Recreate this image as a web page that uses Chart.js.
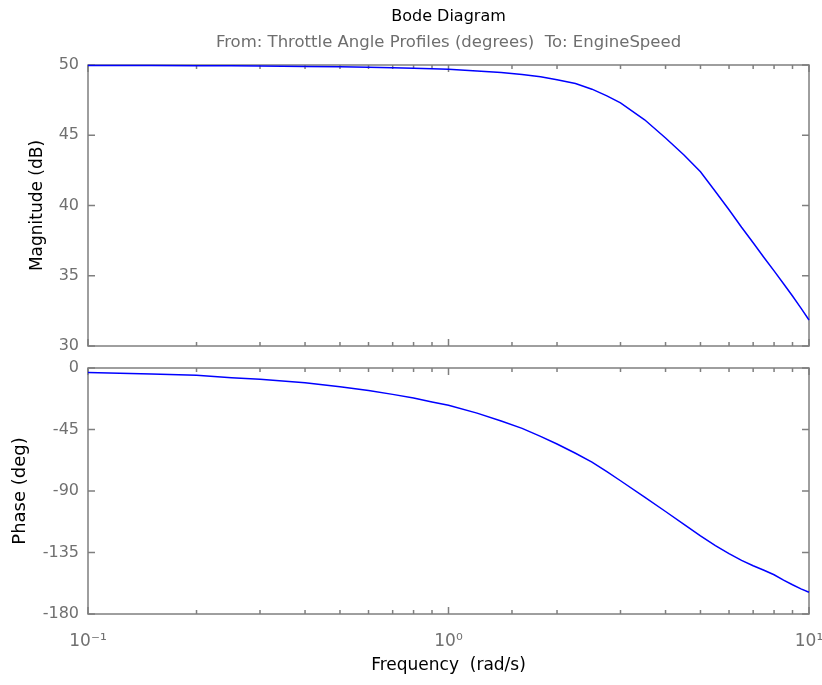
<!DOCTYPE html>
<html>
<head>
<meta charset="utf-8">
<title>Bode Diagram</title>
<script src="https://cdn.jsdelivr.net/npm/chart.js@4.4.1/dist/chart.umd.min.js"></script>
<style>
  body { margin: 0; background: #fff; }
  #wrap { position: relative; width: 822px; height: 685px; }
  #magChart { position: absolute; left: 0; top: 0; }
  #phaseChart { position: absolute; left: 0; top: 340px; }
</style>
</head>
<body>
<div id="wrap">
  <canvas id="magChart" width="822" height="360"></canvas>
  <canvas id="phaseChart" width="822" height="345"></canvas>
</div>
<script>
// frequency points (rad/s) and the values
const freqs = [0.1, 0.15, 0.2, 0.25, 0.3, 0.4, 0.5, 0.6, 0.7, 0.8, 0.9, 1.0, 1.2, 1.4, 1.6, 1.8,
               2.0, 2.25, 2.5, 2.75, 3.0, 3.5, 4.0, 4.5, 5.0, 5.5, 6.0, 6.5, 7.0, 7.5, 8.0, 8.5, 9.0, 9.5, 10];
const magnitude = [49.97, 49.96, 49.95, 49.94, 49.93, 49.89, 49.87, 49.84, 49.81, 49.77, 49.73, 49.69,
                   49.58, 49.46, 49.32, 49.16, 48.95, 48.68, 48.28, 47.8, 47.3, 46.1, 44.8, 43.6, 42.4,
                   41.0, 39.7, 38.45, 37.35, 36.3, 35.35, 34.43, 33.56, 32.7, 31.85];
const phase = [-3.3, -4.3, -5.3, -7.2, -8.3, -10.8, -13.8, -16.5, -19.3, -22.0, -24.8, -27.2,
               -33.0, -38.8, -44.2, -50.0, -55.6, -62.4, -68.8, -75.8, -82.5, -94.5, -105, -114.5, -122.9,
               -130, -135.8, -140.8, -144.7, -148, -151.3, -155.2, -158.6, -161.6, -164.1];

const magTicks = [30, 35, 40, 45, 50];
const phaseTicks = [-180, -135, -90, -45, 0];
const decadeLabels = { '-1': '10⁻¹', '0': '10⁰', '1': '10¹' };

const FONT = 'DejaVu Sans';
const tickGray = '#707070';

function isDecade(v) {
    const e = Math.log10(v);
    return Math.abs(e - Math.round(e)) < 1e-6;
}

// box round the axes with inward tick marks, like the matlab plot
const framePlugin = {
    id: 'frame',
    beforeDatasetsDraw(chart) {
        const { ctx, chartArea: a, scales } = chart;
        ctx.save();
        ctx.strokeStyle = '#7f7f7f';
        ctx.lineWidth = 1.5;
        ctx.strokeRect(a.left, a.top, a.right - a.left, a.bottom - a.top);
        ctx.beginPath();
        scales.x.ticks.forEach(t => {
            const px = scales.x.getPixelForValue(t.value);
            const len = isDecade(t.value) ? 7 : 4;
            ctx.moveTo(px, a.bottom); ctx.lineTo(px, a.bottom - len);
            ctx.moveTo(px, a.top); ctx.lineTo(px, a.top + len);
        });
        scales.y.ticks.forEach(t => {
            const py = scales.y.getPixelForValue(t.value);
            ctx.moveTo(a.left, py); ctx.lineTo(a.left + 7, py);
            ctx.moveTo(a.right, py); ctx.lineTo(a.right - 7, py);
        });
        ctx.stroke();
        ctx.restore();
    }
};

function lineData(ys) {
    return {
        datasets: [{
            data: freqs.map((f, i) => ({ x: f, y: ys[i] })),
            borderColor: '#0000ff',
            borderWidth: 1.5,
            pointRadius: 0,
            tension: 0,
            clip: 2
        }]
    };
}

function xScale(showLabels) {
    return {
        type: 'logarithmic',
        min: 0.1,
        max: 10,
        grid: { display: false, drawTicks: false },
        border: { display: false },
        ticks: {
            display: showLabels,
            autoSkip: false,
            maxRotation: 0,
            color: tickGray,
            font: { family: FONT, size: 17 },
            padding: 17,
            callback: v => isDecade(v) ? decadeLabels[Math.round(Math.log10(v))] : ''
        },
        title: {
            display: showLabels,
            text: 'Frequency  (rad/s)',
            color: '#000',
            font: { family: FONT, size: 17 },
            padding: { top: 0, bottom: 8.8 }
        },
        afterFit: s => {
            s.height = showLabels ? 71 : 0;
            s.paddingLeft = 0;
            s.paddingRight = 0;
        }
    };
}

function yScale(min, max, tickList, label, titleX, titleSize) {
    return {
        min: min,
        max: max,
        afterBuildTicks: s => { s.ticks = tickList.map(v => ({ value: v })); },
        grid: { display: false, drawTicks: false },
        border: { display: false },
        ticks: { color: tickGray, font: { family: FONT, size: 16 }, padding: 9 },
        title: {
            display: true,
            text: label,
            color: '#000',
            font: { family: FONT, size: titleSize },
            padding: { top: titleX - titleSize * 0.6, bottom: 0 }
        },
        afterFit: s => {
            s.width = 88;
            s.paddingTop = 0;
            s.paddingBottom = 0;
        }
    };
}

const magChart = new Chart(document.getElementById('magChart'), {
    type: 'line',
    data: lineData(magnitude),
    options: {
        responsive: false,
        animation: false,
        layout: { padding: { left: 0, right: 13, top: 0, bottom: 14 } },
        plugins: {
            legend: { display: false },
            tooltip: { enabled: false },
            title: {
                display: true,
                fullSize: false,
                text: 'Bode Diagram',
                color: '#000',
                font: { family: FONT, size: 16, weight: 'normal' },
                padding: { top: 6.8, bottom: 0 }
            },
            subtitle: {
                display: true,
                fullSize: false,
                text: 'From: Throttle Angle Profiles (degrees)  To: EngineSpeed',
                color: '#6e6e6e',
                font: { family: FONT, size: 16.5 },
                padding: { top: 7.2, bottom: 12 }
            }
        },
        scales: {
            x: xScale(false),
            y: yScale(30, 50, magTicks, 'Magnitude (dB)', 38, 17)
        }
    },
    plugins: [framePlugin]
});

const phaseChart = new Chart(document.getElementById('phaseChart'), {
    type: 'line',
    data: lineData(phase),
    options: {
        responsive: false,
        animation: false,
        layout: { padding: { left: 0, right: 13, top: 28, bottom: 0 } },
        plugins: {
            legend: { display: false },
            tooltip: { enabled: false }
        },
        scales: {
            x: xScale(true),
            y: yScale(-180, 0, phaseTicks, 'Phase (deg)', 20, 18)
        }
    },
    plugins: [framePlugin]
});
</script>
</body>
</html>
